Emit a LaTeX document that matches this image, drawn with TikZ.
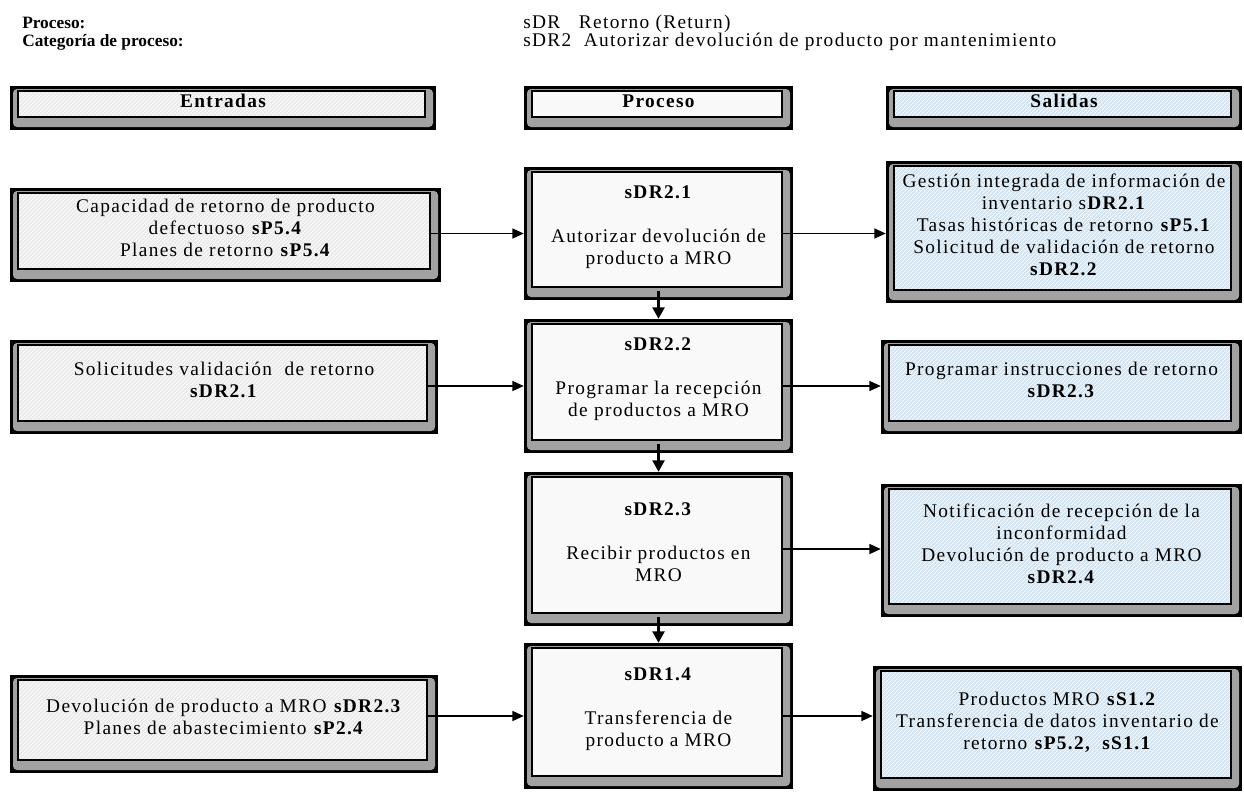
\documentclass[tikz,border=0pt]{standalone}
\usepackage{fontspec}
\setmainfont{Liberation Serif}[LetterSpace=7]
\newfontfamily\tightserif{Liberation Serif}
\usetikzlibrary{arrows.meta,patterns,fit}

\definecolor{framegray}{HTML}{A2A2A2}
\definecolor{ingray}{HTML}{EBEBEB}
\definecolor{procwhite}{HTML}{F8F8F8}
\definecolor{outblue}{HTML}{D3E4F3}

\tikzset{
  % beveled box: black outer edge, grey rounded frame, hatched inner panel
  bevel/.style={
    fill=black, inner sep=0pt, align=center,
    font=\fontsize{14.5pt}{16.5pt}\selectfont,
    path picture={
      \coordinate (bnw) at (path picture bounding box.north west);
      \coordinate (bse) at (path picture bounding box.south east);
      \fill[framegray, rounded corners=3pt]
        ([xshift=2.25pt,yshift=-2.25pt]bnw) rectangle ([xshift=-2.25pt,yshift=2.25pt]bse);
      \fill[#1]
        ([xshift=6pt,yshift=-3.75pt]bnw) rectangle ([xshift=-8.25pt,yshift=9.75pt]bse);
      \fill[pattern=north east lines, pattern color=white]
        ([xshift=6pt,yshift=-3.75pt]bnw) rectangle ([xshift=-8.25pt,yshift=9.75pt]bse);
      \draw[line width=0.9pt]
        ([xshift=6pt,yshift=-3.75pt]bnw) rectangle ([xshift=-8.25pt,yshift=9.75pt]bse);
    }},
  inbox/.style={bevel=ingray},
  procbox/.style={bevel=procwhite},
  outbox/.style={bevel=outblue},
  headfont/.style={font=\fontsize{14.5pt}{16.5pt}\selectfont\bfseries},
  toplabel/.style={anchor=base west, inner sep=0pt, font=\tightserif\fontsize{13pt}{15pt}\selectfont\bfseries},
  topvalue/.style={anchor=base west, inner sep=0pt, font=\fontsize{14.5pt}{16pt}\selectfont},
  arr/.style={line width=1pt, -{Triangle[length=8.5pt,width=7.5pt]}},
  downarr/.style={line width=1.6pt, -{Triangle[length=8.5pt,width=9pt]}},
}

\begin{document}
\begin{tikzpicture}[x=0.75pt,y=-0.75pt]
\useasboundingbox (0,0) rectangle (1244,796);

% title block
\node[toplabel] (tProc) at (22,28) {Proceso:};
\node[toplabel] (tCat) at (22,46) {Categoría de proceso:};
\node[topvalue] (vProc) at (523,28) {sDR\ \ \ Retorno (Return)};
\node[topvalue] (vCat) at (523,46) {sDR2\ \ Autorizar devolución de producto por mantenimiento};

% column headers
\node[inbox, headfont, fit={(10,86) (436,130)}] (hIn) {Entradas};
\node[procbox, headfont, fit={(524,86) (793,130)}] (hProc) {Proceso};
\node[outbox, headfont, fit={(886,86) (1242,130)}] (hOut) {Salidas};

% row 1
\node[inbox, fit={(10,188) (441,282)}] (in1)
  {Capacidad de retorno de producto\\ defectuoso \textbf{sP5.4}\\ Planes de retorno \textbf{sP5.4}};
\node[procbox, fit={(524,167) (793,300)}] (p1)
  {\textbf{sDR2.1}\\[16.5pt] Autorizar devolución de\\ producto a MRO};
\node[outbox, fit={(886,161) (1242,303)}] (o1)
  {Gestión integrada de información de\\ inventario s\textbf{DR2.1}\\ Tasas históricas de retorno \textbf{sP5.1}\\ Solicitud de validación de retorno\\ \textbf{sDR2.2}};

% row 2
\node[inbox, fit={(10,340) (438,434)}] (in2)
  {Solicitudes validación\ \ de retorno\\ \textbf{sDR2.1}};
\node[procbox, fit={(524,319) (793,453)}] (p2)
  {\textbf{sDR2.2}\\[16.5pt] Programar la recepción\\ de productos a MRO};
\node[outbox, fit={(881,340) (1242,434)}] (o2)
  {Programar instrucciones de retorno\\ \textbf{sDR2.3}};

% row 3
\node[procbox, fit={(524,472) (793,626)}] (p3)
  {\textbf{sDR2.3}\\[16.5pt] Recibir productos en\\ MRO};
\node[outbox, fit={(881,484) (1242,617)}] (o3)
  {Notificación de recepción de la\\ inconformidad\\ Devolución de producto a MRO\\ \textbf{sDR2.4}};

% row 4
\node[inbox, fit={(10,675) (438,773)}] (in3)
  {Devolución de producto a MRO \textbf{sDR2.3}\\ Planes de abastecimiento \textbf{sP2.4}};
\node[procbox, fit={(524,643) (793,789)}] (p4)
  {\textbf{sDR1.4}\\[16.5pt] Transferencia de\\ producto a MRO};
\node[outbox, fit={(873,666) (1242,791)}] (o4)
  {Productos MRO \textbf{sS1.2}\\ Transferencia de datos inventario de\\ retorno \textbf{sP5.2,\ \ sS1.1}};

% inputs into the process chain
\draw[arr] ([xshift=-8pt]in1.east |- p1.west) -- (p1.west);
\draw[arr] ([xshift=-8pt]in2.east |- p2.west) -- (p2.west);
\draw[arr] ([xshift=-8pt]in3.east |- p4.west) -- (p4.west);

% process chain
\draw[downarr] ([yshift=7pt]p1.south) -- (p2.north);
\draw[downarr] ([yshift=7pt]p2.south) -- (p3.north);
\draw[downarr] ([yshift=7pt]p3.south) -- (p4.north);

% outputs
\draw[arr] ([xshift=-8pt]p1.east) -- (p1.east -| o1.west);
\draw[arr] ([xshift=-8pt]p2.east) -- (p2.east -| o2.west);
\draw[arr] ([xshift=-8pt]p3.east) -- (p3.east -| o3.west);
\draw[arr] ([xshift=-8pt]p4.east) -- (p4.east -| o4.west);
\end{tikzpicture}
\end{document}
